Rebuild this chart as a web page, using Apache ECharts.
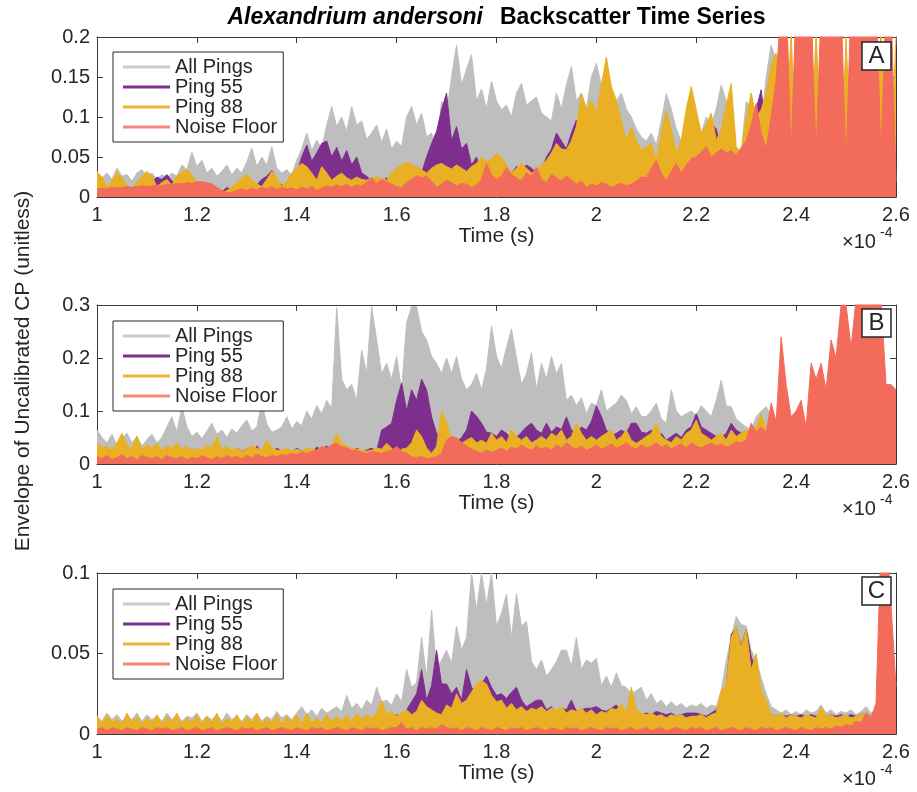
<!DOCTYPE html>
<html>
<head>
<meta charset="utf-8">
<script src="https://cdn.jsdelivr.net/npm/echarts/dist/echarts.min.js"></script>
<style>
  html, body { margin: 0; padding: 0; background: #fff; }
  #chart { width: 917px; height: 792px; }
</style>
</head>
<body>
<div id="chart"></div>
<script>
// Envelope samples, one value every 0.01 (x 1e-4 s) from 1.00 to 2.60
const T0 = 1.0, DT = 0.01;

const seriesNames = ['All Pings', 'Ping 55', 'Ping 88', 'Noise Floor'];
const xTicks = [1, 1.2, 1.4, 1.6, 1.8, 2, 2.2, 2.4, 2.6];

// ---- Panel A ----
const aAll = [
  .032,.024,.030,.022,.036,.026,.028,.020,.030,.034,
  .026,.030,.022,.028,.024,.030,.026,.040,.034,.056,
  .038,.046,.030,.036,.026,.032,.040,.028,.036,.030,
  .044,.061,.038,.050,.040,.063,.036,.030,.034,.028,
  .046,.060,.080,.058,.071,.060,.090,.113,.088,.100,
  .082,.113,.090,.095,.072,.080,.090,.068,.085,.060,
  .070,.063,.100,.113,.090,.105,.075,.080,.060,.120,
  .105,.150,.190,.140,.160,.178,.120,.135,.110,.145,
  .120,.109,.115,.100,.130,.142,.115,.120,.125,.105,
  .100,.095,.130,.110,.140,.163,.120,.130,.110,.150,
  .167,.140,.150,.125,.120,.130,.110,.100,.085,.075,
  .070,.080,.065,.095,.129,.110,.085,.070,.075,.065,
  .070,.080,.100,.090,.110,.140,.120,.085,.060,.055,
  .120,.110,.100,.090,.150,.190,.170,.110,.080,.060,
  .020,.015,.030,.018,.025,.020,.015,.022,.018,.020,
  .020,.015,.025,.018,.020,.015,.022,.018,.020,.015,.012
];
const aP55 = [
  .010,.006,.012,.005,.008,.004,.010,.006,.008,.005,
  .012,.018,.025,.022,.028,.020,.015,.012,.010,.008,
  .010,.006,.008,.005,.010,.006,.012,.008,.010,.006,
  .012,.018,.015,.022,.026,.033,.020,.015,.012,.018,
  .030,.050,.065,.045,.055,.067,.070,.050,.062,.045,
  .058,.040,.050,.030,.026,.020,.022,.018,.024,.020,
  .026,.022,.030,.038,.026,.030,.050,.067,.082,.109,
  .130,.070,.088,.060,.067,.040,.050,.030,.038,.026,
  .030,.026,.034,.030,.038,.034,.040,.036,.030,.034,
  .050,.060,.080,.070,.060,.080,.096,.080,.040,.035,
  .040,.062,.050,.040,.030,.028,.032,.025,.030,.028,
  .040,.050,.040,.035,.030,.028,.030,.025,.030,.040,
  .050,.060,.070,.092,.085,.060,.050,.040,.045,.050,
  .070,.090,.110,.134,.080,.060,.050,.030,.020,.015,
  .012,.008,.014,.010,.012,.008,.015,.010,.012,.008,
  .012,.010,.014,.008,.012,.010,.014,.008,.012,.010,.020
];
const aP88 = [
  .031,.025,.012,.020,.031,.024,.015,.010,.018,.026,
  .032,.026,.013,.018,.022,.015,.027,.030,.035,.028,
  .018,.013,.015,.017,.010,.005,.008,.012,.018,.024,
  .028,.022,.016,.013,.022,.032,.024,.013,.020,.030,
  .036,.042,.038,.030,.021,.038,.030,.021,.026,.030,
  .024,.021,.025,.022,.021,.024,.025,.023,.021,.030,
  .036,.040,.044,.040,.038,.034,.030,.036,.040,.042,
  .038,.035,.040,.036,.032,.038,.042,.050,.044,.048,
  .054,.050,.040,.030,.036,.042,.036,.030,.034,.040,
  .046,.055,.067,.060,.059,.070,.088,.130,.110,.121,
  .105,.140,.175,.138,.121,.095,.071,.088,.070,.059,
  .062,.067,.046,.080,.109,.084,.055,.071,.110,.138,
  .109,.080,.090,.105,.071,.085,.115,.142,.063,.055,
  .100,.130,.100,.109,.130,.165,.180,.080,.060,.210,
  .030,.050,.040,.040,.210,.030,.050,.040,.040,.030,
  .200,.040,.030,.050,.040,.040,.030,.210,.040,.050,.200
];
const aNoise = [
  .010,.011,.010,.012,.011,.012,.013,.012,.013,.014,
  .013,.014,.015,.014,.016,.015,.017,.016,.018,.017,
  .019,.019,.018,.016,.012,.008,.005,.006,.008,.010,
  .008,.011,.009,.012,.010,.013,.009,.012,.010,.011,
  .009,.012,.010,.013,.008,.011,.014,.012,.015,.013,
  .016,.012,.015,.014,.018,.024,.017,.022,.019,.016,
  .013,.012,.018,.022,.026,.024,.026,.020,.012,.016,
  .021,.018,.014,.017,.016,.012,.015,.022,.042,.028,
  .022,.026,.037,.028,.024,.020,.030,.026,.037,.022,
  .018,.028,.024,.020,.026,.022,.016,.020,.012,.016,
  .014,.018,.016,.012,.015,.017,.014,.016,.020,.025,
  .024,.036,.046,.030,.020,.032,.042,.030,.040,.048,
  .050,.056,.063,.050,.055,.060,.055,.058,.052,.062,
  .070,.090,.117,.080,.060,.100,.146,.240,.260,.050,
  .250,.250,.260,.240,.050,.240,.260,.250,.250,.240,
  .040,.250,.260,.240,.250,.250,.260,.050,.250,.240,.020
];

// ---- Panel B ----
const bAll = [
  .064,.050,.040,.056,.036,.048,.058,.040,.052,.034,
  .046,.056,.040,.050,.070,.089,.060,.108,.070,.052,
  .060,.048,.062,.077,.056,.064,.050,.066,.058,.072,
  .083,.062,.070,.115,.075,.060,.064,.070,.089,.066,
  .080,.072,.100,.085,.110,.095,.120,.105,.295,.160,
  .140,.150,.120,.215,.170,.297,.234,.170,.190,.160,
  .203,.140,.266,.297,.297,.250,.234,.203,.190,.171,
  .200,.171,.203,.160,.140,.150,.171,.140,.180,.260,
  .203,.180,.220,.255,.200,.150,.170,.210,.140,.190,
  .160,.203,.170,.190,.120,.130,.110,.125,.095,.115,
  .110,.140,.100,.108,.115,.130,.120,.095,.108,.090,
  .089,.100,.115,.085,.077,.140,.100,.089,.095,.100,
  .092,.110,.100,.089,.120,.158,.110,.108,.085,.077,
  .070,.064,.089,.100,.108,.090,.070,.060,.050,.045,
  .030,.020,.025,.018,.022,.020,.025,.018,.022,.020,
  .025,.018,.022,.020,.024,.018,.022,.020,.025,.018,.015
];
const bP55 = [
  .030,.022,.028,.020,.034,.024,.030,.020,.026,.022,
  .028,.020,.032,.024,.030,.022,.036,.026,.030,.020,
  .026,.020,.030,.024,.028,.020,.026,.022,.030,.024,
  .028,.020,.034,.022,.026,.020,.030,.024,.028,.022,
  .030,.024,.028,.020,.032,.026,.034,.024,.030,.022,
  .028,.020,.030,.024,.026,.030,.024,.064,.070,.077,
  .120,.153,.100,.140,.120,.160,.140,.089,.058,.045,
  .039,.045,.040,.050,.064,.100,.090,.077,.060,.058,
  .052,.064,.058,.045,.050,.060,.070,.077,.064,.058,
  .077,.060,.070,.065,.089,.064,.058,.070,.064,.080,
  .110,.090,.064,.052,.058,.064,.058,.077,.077,.060,
  .058,.064,.052,.058,.045,.052,.058,.050,.064,.070,
  .095,.070,.064,.058,.052,.050,.058,.077,.064,.058,
  .052,.050,.045,.040,.030,.020,.015,.012,.010,.012,
  .010,.008,.012,.010,.008,.012,.010,.008,.012,.010,
  .008,.012,.010,.008,.012,.010,.008,.012,.010,.008,.010
];
const bP88 = [
  .040,.030,.034,.026,.040,.058,.034,.030,.052,.028,
  .036,.030,.039,.026,.034,.030,.039,.028,.034,.026,
  .030,.026,.036,.030,.052,.028,.033,.026,.030,.024,
  .028,.034,.030,.026,.045,.030,.026,.026,.030,.024,
  .028,.024,.030,.028,.026,.033,.028,.034,.058,.040,
  .033,.030,.028,.026,.024,.026,.030,.028,.039,.030,
  .020,.028,.030,.040,.064,.052,.030,.020,.033,.100,
  .077,.045,.040,.039,.045,.050,.040,.045,.039,.058,
  .045,.052,.040,.064,.052,.045,.052,.040,.045,.052,
  .045,.058,.052,.064,.045,.052,.077,.058,.045,.052,
  .045,.052,.058,.064,.045,.052,.064,.045,.039,.045,
  .052,.058,.077,.052,.045,.040,.052,.045,.058,.064,
  .083,.058,.052,.045,.052,.058,.045,.064,.052,.058,
  .064,.058,.070,.095,.064,.058,.040,.030,.020,.015,
  .012,.010,.015,.012,.010,.018,.012,.040,.035,.030,
  .038,.028,.040,.035,.018,.012,.015,.010,.012,.010,.008
];
const bNoise = [
  .014,.010,.016,.008,.012,.018,.010,.014,.008,.016,
  .012,.010,.014,.008,.016,.012,.010,.014,.008,.012,
  .010,.016,.012,.008,.014,.010,.016,.012,.014,.010,
  .016,.012,.018,.014,.012,.016,.014,.018,.016,.020,
  .018,.022,.020,.024,.026,.033,.030,.036,.039,.032,
  .030,.026,.026,.022,.020,.024,.022,.020,.024,.026,
  .033,.024,.020,.014,.012,.014,.010,.012,.014,.020,
  .045,.052,.050,.040,.034,.028,.024,.020,.026,.022,
  .026,.030,.024,.032,.028,.036,.030,.026,.034,.028,
  .032,.026,.036,.030,.040,.032,.028,.034,.026,.030,
  .036,.028,.032,.038,.030,.034,.040,.032,.028,.036,
  .030,.034,.040,.032,.036,.028,.034,.038,.030,.040,
  .034,.030,.036,.040,.034,.038,.032,.036,.042,.040,
  .045,.077,.060,.070,.060,.115,.080,.240,.150,.089,
  .100,.120,.070,.190,.160,.190,.140,.234,.200,.300,
  .300,.220,.310,.300,.320,.310,.300,.310,.150,.150,.140
];

// ---- Panel C ----
const cAll = [
  .011,.008,.013,.009,.012,.008,.011,.009,.013,.008,
  .012,.009,.011,.008,.013,.009,.012,.008,.011,.010,
  .013,.008,.011,.009,.012,.008,.013,.009,.011,.008,
  .012,.009,.013,.008,.011,.009,.014,.010,.012,.009,
  .013,.017,.012,.015,.011,.016,.013,.015,.017,.014,
  .024,.016,.019,.015,.021,.018,.029,.020,.021,.018,
  .025,.020,.040,.029,.032,.060,.035,.077,.040,.046,
  .052,.044,.067,.052,.060,.100,.077,.100,.080,.100,
  .067,.075,.087,.060,.087,.067,.070,.045,.040,.046,
  .036,.040,.045,.052,.052,.042,.060,.040,.046,.044,
  .047,.030,.036,.029,.038,.030,.029,.025,.027,.029,
  .021,.025,.019,.021,.017,.020,.017,.019,.016,.018,
  .017,.019,.016,.018,.017,.027,.045,.060,.073,.068,
  .067,.052,.046,.035,.025,.017,.015,.013,.015,.012,
  .014,.012,.015,.013,.014,.018,.013,.015,.012,.014,
  .013,.015,.012,.014,.017,.013,.015,.012,.014,.012,.010
];
const cP55 = [
  .008,.006,.009,.007,.008,.006,.009,.007,.008,.006,
  .009,.007,.008,.006,.009,.007,.008,.006,.009,.007,
  .008,.006,.009,.007,.008,.006,.009,.007,.008,.006,
  .009,.007,.008,.006,.009,.007,.008,.006,.009,.007,
  .008,.006,.009,.007,.008,.006,.009,.007,.008,.006,
  .009,.007,.008,.006,.009,.007,.010,.008,.011,.009,
  .012,.010,.015,.020,.025,.040,.021,.030,.052,.031,
  .031,.025,.029,.021,.040,.029,.025,.031,.036,.029,
  .024,.025,.022,.026,.029,.021,.017,.019,.021,.021,
  .015,.017,.013,.016,.015,.021,.014,.015,.016,.016,
  .017,.015,.014,.016,.018,.014,.013,.014,.015,.012,
  .013,.012,.014,.013,.012,.013,.011,.012,.013,.013,
  .013,.012,.011,.013,.015,.020,.030,.062,.066,.055,
  .065,.048,.040,.025,.017,.012,.011,.012,.011,.012,
  .011,.012,.011,.012,.011,.013,.011,.012,.011,.012,
  .011,.012,.011,.012,.013,.011,.012,.011,.010,.010,.008
];
const cP88 = [
  .011,.006,.012,.007,.010,.006,.013,.007,.011,.006,
  .010,.007,.012,.006,.011,.007,.013,.006,.010,.007,
  .012,.006,.011,.007,.013,.006,.010,.007,.012,.006,
  .011,.007,.013,.006,.010,.007,.012,.006,.011,.007,
  .012,.006,.013,.007,.010,.007,.012,.008,.011,.008,
  .012,.008,.013,.009,.012,.010,.013,.021,.012,.014,
  .011,.013,.015,.012,.014,.021,.017,.015,.013,.012,
  .018,.016,.025,.019,.021,.026,.031,.033,.031,.024,
  .020,.021,.016,.019,.015,.017,.014,.016,.015,.017,
  .014,.016,.015,.017,.013,.015,.014,.016,.013,.015,
  .012,.014,.013,.016,.015,.019,.013,.029,.015,.013,
  .012,.013,.011,.012,.010,.012,.011,.012,.010,.011,
  .011,.012,.010,.012,.013,.027,.031,.060,.067,.054,
  .065,.040,.050,.027,.021,.012,.011,.013,.010,.012,
  .011,.010,.012,.011,.010,.017,.011,.012,.010,.011,
  .012,.010,.011,.012,.013,.011,.012,.010,.011,.010,.008
];
const cNoise = [
  .003,.004,.002,.004,.003,.002,.004,.003,.002,.004,
  .003,.002,.004,.003,.004,.002,.003,.004,.002,.003,
  .004,.002,.003,.004,.002,.003,.004,.003,.002,.004,
  .003,.004,.002,.003,.004,.002,.003,.004,.003,.002,
  .004,.003,.002,.004,.003,.004,.002,.003,.004,.003,
  .002,.004,.003,.002,.004,.003,.004,.002,.003,.004,
  .004,.007,.003,.004,.002,.004,.003,.004,.003,.006,
  .004,.003,.004,.002,.004,.003,.002,.004,.003,.002,
  .004,.003,.002,.004,.003,.004,.002,.003,.004,.003,
  .002,.004,.003,.002,.004,.003,.004,.002,.003,.004,
  .003,.002,.004,.003,.004,.002,.003,.004,.002,.003,
  .004,.002,.003,.004,.002,.003,.004,.003,.002,.004,
  .003,.004,.002,.003,.004,.002,.003,.004,.003,.002,
  .004,.003,.002,.004,.003,.004,.002,.003,.004,.003,
  .002,.004,.003,.002,.004,.003,.004,.003,.005,.004,
  .006,.005,.008,.007,.013,.010,.019,.120,.130,.080,.030
];

// ---- styling ----
const FONT = '"Liberation Sans", Arial, Helvetica, sans-serif';
const INK = '#262626';
const AXIS = '#3a3a3a';
const colors = ['#bebebe', '#7e2f8e', '#e9b023', '#f26b5b'];
const legendColors = ['#cbcbcb', '#7e2f8e', '#edb43a', '#f5877c'];

const panels = [
  { top: 37,  height: 160, yMax: 0.2, yStep: 0.05, letter: 'A', values: [aAll, aP55, aP88, aNoise] },
  { top: 305, height: 159, yMax: 0.3, yStep: 0.1,  letter: 'B', values: [bAll, bP55, bP88, bNoise] },
  { top: 573, height: 161, yMax: 0.1, yStep: 0.05, letter: 'C', values: [cAll, cP55, cP88, cNoise] }
];

const toPairs = vals => vals.map((v, i) => [+(T0 + i * DT).toFixed(2), v]);
const labelStyle = { fontSize: 20, color: INK, fontFamily: FONT };

const grid = [], xAxis = [], yAxis = [], series = [], legend = [], graphic = [];

panels.forEach((p, k) => {
  grid.push({ left: 97, right: 21, top: p.top, height: p.height });

  const xBase = {
    gridIndex: k, type: 'value', min: xTicks[0], max: xTicks[xTicks.length - 1], interval: 0.2,
    axisLine: { onZero: false, lineStyle: { color: AXIS, width: 1 } },
    axisTick: { inside: true, length: 6, lineStyle: { color: AXIS } },
    splitLine: { show: false }
  };
  xAxis.push(Object.assign({}, xBase, {
    position: 'bottom',
    axisLabel: Object.assign({ margin: 8, formatter: v => String(+v.toFixed(1)) }, labelStyle),
    name: 'Time (s)', nameLocation: 'middle', nameGap: 27,
    nameTextStyle: { fontSize: 21, color: INK, fontFamily: FONT }
  }));
  xAxis.push(Object.assign({}, xBase, { position: 'top', axisLabel: { show: false } }));

  const yBase = {
    gridIndex: k, type: 'value', min: 0, max: p.yMax, interval: p.yStep,
    axisLine: { show: true, onZero: false, lineStyle: { color: AXIS, width: 1 } },
    axisTick: { show: true, inside: true, length: 6, lineStyle: { color: AXIS } },
    splitLine: { show: false }
  };
  yAxis.push(Object.assign({}, yBase, {
    position: 'left',
    axisLabel: Object.assign({ margin: 7, formatter: v => String(+v.toFixed(2)) }, labelStyle)
  }));
  yAxis.push(Object.assign({}, yBase, { position: 'right', axisLabel: { show: false } }));

  p.values.forEach((vals, s) => {
    series.push({
      type: 'line', name: seriesNames[s],
      xAxisIndex: 2 * k, yAxisIndex: 2 * k,
      data: toPairs(vals),
      symbol: 'none', clip: true, silent: true,
      lineStyle: { width: 1, color: colors[s] },
      itemStyle: { color: colors[s] },
      areaStyle: { color: colors[s], opacity: 1 },
      z: 2 + s
    });
  });

  legend.push({
    orient: 'vertical', left: 113, top: p.top + (k === 0 ? 15 : 16),
    selectedMode: false,
    backgroundColor: '#fff', borderColor: INK, borderWidth: 1,
    padding: [5, 6, 5, 10], itemGap: 0,
    itemWidth: 47, itemHeight: 3, icon: 'rect',
    textStyle: { fontSize: 20, color: INK, fontFamily: FONT, lineHeight: 19 },
    data: seriesNames.map((n, s) => ({ name: n, itemStyle: { color: legendColors[s] } }))
  });

  const bottom = p.top + p.height;
  // exponent note under the x axis
  graphic.push({
    type: 'text', x: 842, y: bottom + 45, z: 100,
    style: { text: '\u00d710', fill: INK, font: '20px ' + FONT, textAlign: 'left', textVerticalAlign: 'middle' }
  });
  graphic.push({
    type: 'text', x: 880, y: bottom + 36, z: 100,
    style: { text: '-4', fill: INK, font: '14px ' + FONT, textAlign: 'left', textVerticalAlign: 'middle' }
  });
  // panel letter
  const boxTop = p.top + (k === 0 ? 5 : 4);
  graphic.push({
    type: 'rect', z: 100,
    shape: { x: 862, y: boxTop, width: 29, height: 28 },
    style: { fill: '#fff', stroke: INK, lineWidth: 1.5 }
  });
  graphic.push({
    type: 'text', x: 876.5, y: boxTop + 14.5, z: 101,
    style: { text: p.letter, fill: INK, font: '24px ' + FONT, textAlign: 'center', textVerticalAlign: 'middle' }
  });
});

// title and shared y-axis name
graphic.push({
  type: 'text', x: 483, y: 18, z: 100,
  style: { text: 'Alexandrium andersoni', fill: '#000', font: 'italic bold 23px ' + FONT, textAlign: 'right', textVerticalAlign: 'middle' }
});
graphic.push({
  type: 'text', x: 500, y: 18, z: 100,
  style: { text: 'Backscatter Time Series', fill: '#000', font: 'bold 23px ' + FONT, textAlign: 'left', textVerticalAlign: 'middle' }
});
graphic.push({
  type: 'text', x: 23, y: 371, rotation: Math.PI / 2, z: 100,
  style: { text: 'Envelope of Uncalibrated CP (unitless)', fill: INK, font: '21px ' + FONT, textAlign: 'center', textVerticalAlign: 'middle' }
});

const chart = echarts.init(document.getElementById('chart'), null, { renderer: 'canvas' });
chart.setOption({
  animation: false,
  backgroundColor: '#fff',
  grid, xAxis, yAxis, series, legend, graphic
});
</script>
</body>
</html>
